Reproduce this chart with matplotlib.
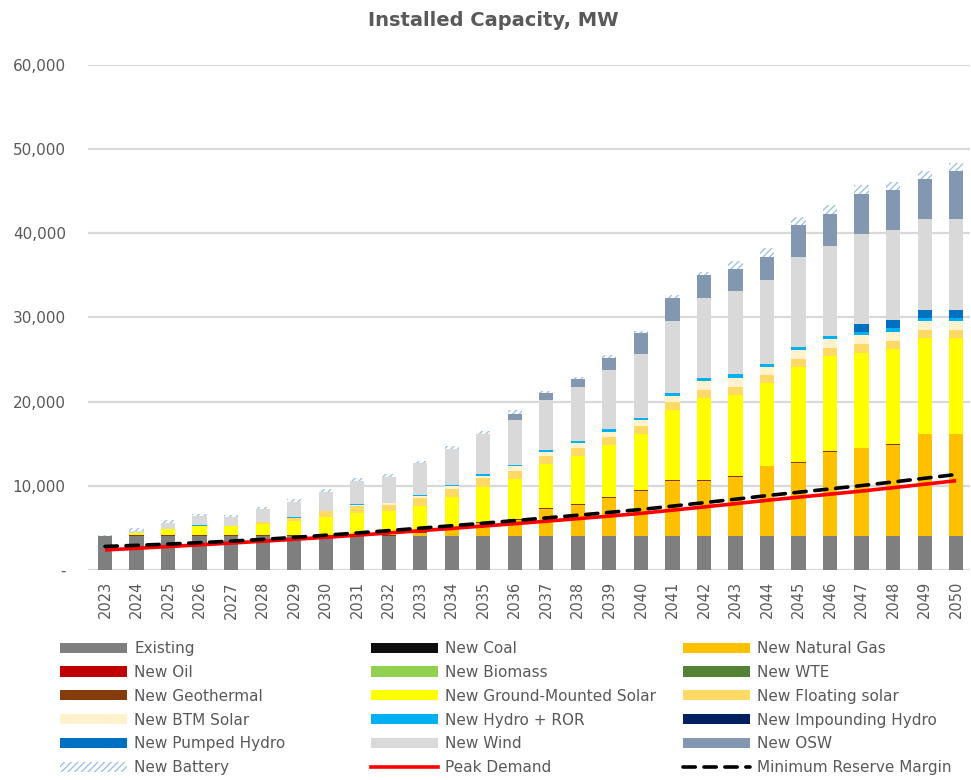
import matplotlib
matplotlib.use("Agg")
import matplotlib.pyplot as plt
from matplotlib.patches import Patch
from matplotlib.lines import Line2D
import numpy as np

years = list(range(2023, 2051))

existing = [4000] * 28
new_coal = [0, 0, 0] + [60] * 25
new_natural_gas = [0, 0, 0, 0, 0, 0, 0, 0, 0, 0, 300, 900, 1500, 1900, 3200, 3630, 4460, 5330,
                   6520, 6520, 6950, 8240, 8710, 9980, 10380, 10850, 12040, 12040]
new_oil = [0] * 28
new_biomass = [0] * 28
new_wte = [0] * 28
new_geothermal = [0] + [100] * 27
new_ground_solar = [0, 240, 830, 1100, 1030, 1350, 1660, 2170, 2650, 2800, 3120, 3600, 4230, 4740,
                    5290, 5730, 6280, 6720, 8300, 9800, 9720, 9780, 11250, 11330, 11290, 11250, 11330, 11330]
new_floating_solar = [0, 0, 0, 0, 0, 200, 360, 630, 750, 750, 950, 950, 1050, 950,
                      950, 990, 910, 950, 990, 950, 950, 950, 950, 950, 990, 990, 990, 990]
new_btm_solar = [0, 0, 0, 0, 0, 0, 0, 0, 200, 200, 280, 320, 280, 550,
                 470, 550, 630, 630, 710, 990, 1070, 1030, 1070, 1030, 1070, 1070, 1070, 1070]
new_hydro_ror = [0, 0, 0, 40, 40, 50, 80, 80, 100, 100, 120, 200, 200, 200,
                 240, 280, 320, 320, 400, 400, 400, 360, 360, 400, 360, 400, 360, 360]
new_impounding_hydro = [0] * 28
new_pumped_hydro = [0] * 24 + [990, 950, 990, 990]
new_wind = [0, 320, 710, 1070, 1070, 1500, 1860, 2250, 2720, 3080, 3750, 4270, 4780, 5290,
            5890, 6400, 6990, 7550, 8490, 9440, 9840, 9940, 10650, 10690, 10730, 10730, 10730, 10730]
new_osw = [0] * 13 + [790, 790, 910, 1460, 2450, 2800, 2800, 2730, 2770, 3800, 3800,
                      4750, 4750, 4790, 5740]
new_battery = [100, 280, 280, 280, 280, 280, 280, 280, 350, 280, 280, 280, 320, 400,
               320, 280, 320, 320, 280, 320, 910, 990, 950, 990, 990, 990, 950, 990]

peak_demand = [2380, 2580, 2780, 2990, 3200, 3420, 3650, 3880, 4140, 4400, 4670, 4940, 5220, 5500,
               5800, 6100, 6410, 6730, 7110, 7490, 7880, 8280, 8650, 9010, 9380, 9780, 10190, 10610]
min_reserve_margin = [2800, 2930, 3080, 3250, 3430, 3640, 3870, 4130, 4400, 4680, 4970, 5260, 5560, 5870,
                      6190, 6510, 6850, 7190, 7590, 8000, 8410, 8840, 9240, 9630, 10030, 10460, 10900, 11350]

series_names = ["Existing", "New Coal", "New Natural Gas", "New Oil", "New Biomass", "New WTE",
                "New Geothermal", "New Ground-Mounted Solar", "New Floating solar", "New BTM Solar",
                "New Hydro + ROR", "New Impounding Hydro", "New Pumped Hydro", "New Wind", "New OSW",
                "New Battery"]
series_values = [existing, new_coal, new_natural_gas, new_oil, new_biomass, new_wte, new_geothermal,
                 new_ground_solar, new_floating_solar, new_btm_solar, new_hydro_ror,
                 new_impounding_hydro, new_pumped_hydro, new_wind, new_osw, new_battery]
series_colors = ["#7F7F7F", "#0D0D0D", "#FFC000", "#C00000", "#92D050", "#548235", "#843C0C",
                 "#FFFF00", "#FFD966", "#FFF2CC", "#00B0F0", "#002060", "#0070C0", "#D9D9D9",
                 "#8497B0", "#FFFFFF"]

TXT = "#595959"
plt.rcParams['font.family'] = ['DejaVu Sans']

fig = plt.figure(figsize=(9.71, 7.8), dpi=100)
ax = fig.add_axes([88 / 971, 1 - 570 / 780, 882 / 971, (570 - 65) / 780])

x = np.arange(len(years))
bottom = np.zeros(len(years))
for name, vals, col in zip(series_names, series_values, series_colors):
    v = np.array(vals, dtype=float)
    if name == "New Battery":
        ax.bar(x, v, bottom=bottom, width=0.45, color="white", edgecolor="#9DC3E6",
               hatch="/////", linewidth=0, zorder=3)
    else:
        ax.bar(x, v, bottom=bottom, width=0.45, color=col, linewidth=0, zorder=3)
    bottom += v

ax.plot(x, peak_demand, color="#FF0000", lw=2.6, zorder=5, solid_capstyle="butt")
ax.plot(x, min_reserve_margin, color="black", lw=2.6, zorder=6,
        linestyle=(0, (3.4, 2.4)), dash_capstyle="round")

ax.set_xlim(-0.54, 27.44)
ax.set_ylim(0, 60000)
ax.set_yticks(range(0, 60001, 10000))
ax.set_yticklabels(["-"] + [f"{v:,}" for v in range(10000, 60001, 10000)])
ax.set_xticks(x)
ax.set_xticklabels([str(y) for y in years], rotation=90)
ax.tick_params(axis="y", length=0, pad=16, labelsize=11, labelcolor=TXT)
ax.tick_params(axis="x", length=0, pad=8, labelsize=10.5, labelcolor=TXT)
ax.yaxis.grid(True, color="#D9D9D9", lw=1.6, zorder=0)
ax.set_axisbelow(True)
for s in ax.spines.values():
    s.set_visible(False)

fig.text(493 / 971, 1 - 20 / 780, "Installed Capacity, MW", ha="center", va="center",
         fontsize=14, fontweight="bold", color=TXT)

# Legend: Excel lays it out row-major in three columns
handles = {}
for name, col in zip(series_names, series_colors):
    if name == "New Battery":
        handles[name] = Patch(facecolor="white", edgecolor="#9DC3E6", hatch="/////", linewidth=0)
    else:
        handles[name] = Patch(facecolor=col, linewidth=0)
handles["Peak Demand"] = Line2D([], [], color="#FF0000", lw=2.6)
handles["Minimum Reserve Margin"] = Line2D([], [], color="black", lw=2.6,
                                           linestyle=(0, (3.4, 2.4)), dash_capstyle="round")
order = series_names + ["Peak Demand", "Minimum Reserve Margin"]
cols_x = [60, 371, 683]
for c in range(3):
    names = order[c::3]
    leg = fig.legend([handles[n] for n in names], names, loc="upper left",
                     bbox_to_anchor=(cols_x[c] / 971, 1 - 641 / 780), frameon=False,
                     fontsize=11, handlelength=4.4, handleheight=0.65, handletextpad=0.45,
                     labelspacing=0.58, borderpad=0, borderaxespad=0)
    for t in leg.get_texts():
        t.set_color(TXT)

fig.savefig("out.png", dpi=100)
